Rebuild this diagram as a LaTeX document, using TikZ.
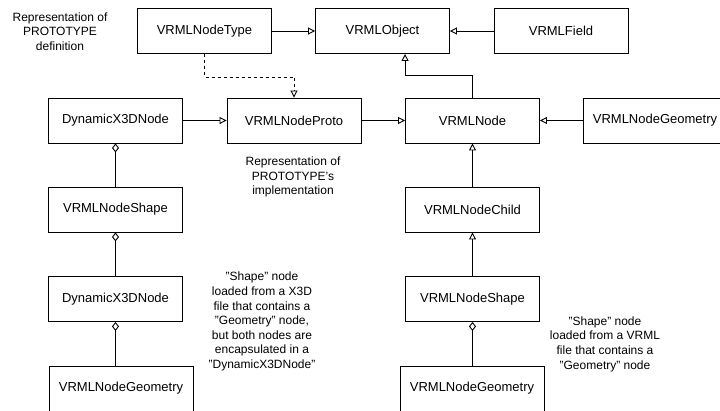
\documentclass[tikz,border=0pt]{standalone}
\usepackage{fontspec}
\setmainfont{Liberation Sans}
\usetikzlibrary{arrows.meta,positioning}

\begin{document}
\begin{tikzpicture}[x=1pt,y=-1pt,line width=0.9pt,
  box/.style={draw,minimum width=134pt,minimum height=45pt,inner sep=0pt,font=\fontsize{13}{15}\selectfont},
  wide/.style={box,minimum width=144pt},
  note/.style={align=center,font=\fontsize{12}{14.6}\selectfont},
  inherit/.style={-{Triangle[open,length=7pt,width=7pt]}},
  aggr/.style={{Diamond[open,length=9pt,width=7pt]}-}]
\useasboundingbox (0,0) rectangle (720,410);
% top row
\node[box] (type) at (204.5,31) {VRMLNodeType};
\node[box] (object) at (382.5,31) {VRMLObject};
\node[box] (field) at (561,31) {VRMLField};
% second row
\node[box] (dynA) at (115.5,120.5) {DynamicX3DNode};
\node[box] (proto) at (294,120.5) {VRMLNodeProto};
\node[box] (vnode) at (472.5,120.5) {VRMLNode};
\node[wide] (geom) at (655,120.5) {VRMLNodeGeometry};
% left column
\node[box] (shapeX3D) at (115.5,209.5) {VRMLNodeShape};
\node[box] (dynB) at (115.5,299) {DynamicX3DNode};
\node[wide] (geomX3D) at (121,388.5) {VRMLNodeGeometry};
% right column
\node[box] (child) at (472.5,209.5) {VRMLNodeChild};
\node[box] (shapeVRML) at (472.5,299) {VRMLNodeShape};
\node[wide] (geomVRML) at (472,388.5) {VRMLNodeGeometry};
% notes
\node[note] (noteDef) at (60,31.5) {Representation of\\PROTOTYPE\\definition};
\node[note] (noteImpl) at (293,177) {Representation of\\PROTOTYPE's\\implementation};
\node[note] (noteX3D) at (262,321.5) {"Shape" node\\loaded from a X3D\\file that contains a\\"Geometry" node,\\but both nodes are\\encapsulated in a\\"DynamicX3DNode"};
\node[note] (noteVRML) at (605,344) {"Shape" node\\loaded from a VRML\\file that contains a\\"Geometry" node};
% connectors
\draw[inherit] (type) -- (object);
\draw[inherit] (field) -- (object);
\draw[inherit] (vnode.north) -- ++(0,-22) -| (vnode.north west |- object.south);
\draw[inherit,dash pattern=on 3pt off 3pt] (type.south) -- ++(0,23) -| (proto.north);
\draw[inherit] (dynA) -- (proto);
\draw[inherit] (proto) -- (vnode);
\draw[inherit] (geom) -- (vnode);
\draw[inherit] (child) -- (vnode);
\draw[inherit] (shapeVRML) -- (child);
\draw[aggr] (dynA) -- (shapeX3D);
\draw[aggr] (shapeX3D) -- (dynB);
\draw[aggr] (dynB.south) -- (dynB.south |- geomX3D.north);
\draw[aggr] (shapeVRML.south) -- (shapeVRML.south |- geomVRML.north);
\end{tikzpicture}
\end{document}
